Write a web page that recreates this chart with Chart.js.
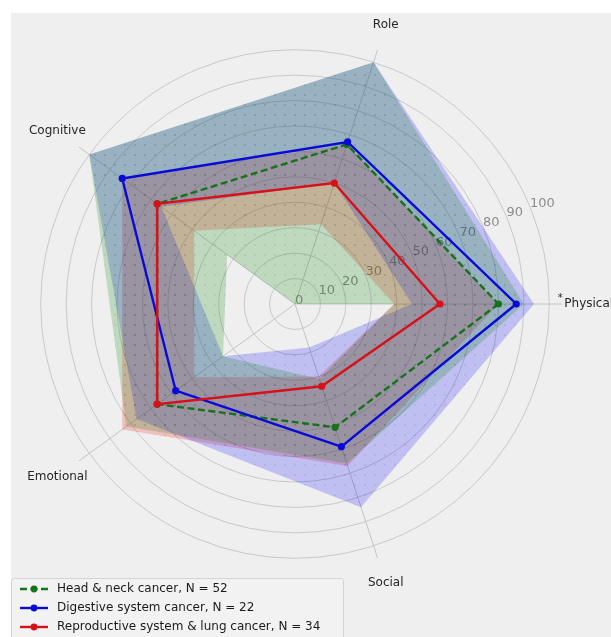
<!DOCTYPE html>
<html>
<head>
<meta charset="utf-8">
<script src="https://cdn.jsdelivr.net/npm/chart.js@4/dist/chart.umd.min.js"></script>
<style>
  html, body { margin: 0; padding: 0; background: #ffffff; }
  #wrap { position: relative; width: 611px; height: 637px; }
</style>
</head>
<body>
<div id="wrap"><canvas id="chart" width="611" height="637"></canvas></div>
<script>
// Axes, clockwise from the right-hand side
const categories = ['Physical', 'Social', 'Emotional', 'Cognitive', 'Role'];
const starred = ['Physical'];
const tickLabels = [0, 10, 20, 30, 40, 50, 60, 70, 80, 90, 100];

const seriesNames = [
  'Head & neck cancer, N = 52',
  'Digestive system cancer, N = 22',
  'Reproductive system & lung cancer, N = 34'
];

// Score profiles (same axis order as categories)
const headNeck      = [80, 51, 67, 67, 66];
const digestive     = [87, 59, 58, 84, 67];
const reproductive  = [57, 34, 67, 67, 50];

// Spread bands: lower and upper bounds per axis
const headNeckLow      = [39, 31, 35, 33, 0];
const headNeckHigh     = [90, 66, 82, 100, 100];
const digestiveLow     = [46, 18, 35, 65, 50];
const digestiveHigh    = [94, 84, 77, 100, 100];
const reproductiveLow  = [39, 30, 49, 49, 33];
const reproductiveHigh = [80, 67, 84, 84, 66];

const lineColors = ['#17731a', '#0a0ad8', '#d8101a'];
const bandColors = ['rgba(0,128,0,0.2)', 'rgba(0,0,255,0.2)', 'rgba(255,0,0,0.2)'];

// Dotted hatch pattern on top of a translucent colour
function dotPattern(color) {
  const s = 10;
  const c = document.createElement('canvas');
  c.width = s; c.height = s;
  const g = c.getContext('2d');
  g.fillStyle = color;
  g.fillRect(0, 0, s, s);
  g.fillStyle = 'rgba(0,0,0,0.1)';
  g.beginPath();
  g.arc(5, 5, 0.9, 0, Math.PI * 2);
  g.fill();
  return g.createPattern(c, 'repeat');
}

const ctx = document.getElementById('chart').getContext('2d');

function band(data, fill, color) {
  return {
    data: data,
    borderColor: 'rgba(0,0,0,0)',
    borderWidth: 0,
    pointRadius: 0,
    pointHoverRadius: 0,
    backgroundColor: color,
    fill: fill,
    order: 10
  };
}

function profile(data, i, dash) {
  return {
    label: seriesNames[i],
    data: data,
    borderColor: lineColors[i],
    backgroundColor: lineColors[i],
    pointBackgroundColor: lineColors[i],
    pointBorderWidth: 0,
    pointRadius: 3.6,
    borderWidth: 2.4,
    borderDash: dash,
    fill: false,
    order: 3 - i
  };
}

const backdrop = {
  id: 'backdrop',
  beforeDraw(chart) {
    const g = chart.ctx;
    g.save();
    g.fillStyle = '#ffffff';
    g.fillRect(0, 0, chart.width, chart.height);
    g.fillStyle = '#efefef';
    g.fillRect(11, 13, chart.width - 11, chart.height - 13);
    g.restore();
  }
};

// Radial tick labels along a ray 22.5 degrees above the Physical axis
const radialTicks = {
  id: 'radialTicks',
  beforeDatasetsDraw(chart) {
    const s = chart.scales.r;
    const g = chart.ctx;
    const a = -22.5 * Math.PI / 180;
    g.save();
    g.font = '13px "DejaVu Sans"';
    g.fillStyle = '#8c8c8c';
    g.textAlign = 'left';
    g.textBaseline = 'alphabetic';
    tickLabels.forEach(v => {
      const d = s.getDistanceFromCenterForValue(v);
      g.fillText(String(v), s.xCenter + Math.cos(a) * d, s.yCenter + Math.sin(a) * d);
    });
    g.restore();
  }
};

// Axis names and the legend box
const annotations = {
  id: 'annotations',
  afterDraw(chart) {
    const s = chart.scales.r;
    const g = chart.ctx;
    g.save();
    g.font = '12px "DejaVu Sans"';
    g.fillStyle = '#262626';
    g.textAlign = 'center';
    g.textBaseline = 'middle';
    const dist = s.drawingArea * 1.10;
    categories.forEach((name, i) => {
      const p = s.getPointPosition(i, dist);
      g.fillText(name, p.x, p.y);
      if (starred.includes(name)) {
        const w = g.measureText(name).width;
        g.save();
        g.font = '10px "DejaVu Sans"';
        g.fillText('*', p.x - w / 2 - 4, p.y - 6);
        g.restore();
      }
    });

    // legend
    const bx = 11.5, by = 578.5, bw = 332, bh = 70;
    g.fillStyle = 'rgba(242,242,242,0.85)';
    g.strokeStyle = '#d4d4d4';
    g.lineWidth = 1;
    g.beginPath();
    g.roundRect(bx, by, bw, bh, 3);
    g.fill();
    g.stroke();
    const rows = [589, 608, 627];
    g.textAlign = 'left';
    g.textBaseline = 'middle';
    g.font = '12px "DejaVu Sans"';
    seriesNames.forEach((name, i) => {
      const y = rows[i];
      g.strokeStyle = lineColors[i];
      g.lineWidth = 2.4;
      g.setLineDash(i === 0 ? [7, 3.5] : []);
      g.beginPath();
      g.moveTo(20, y);
      g.lineTo(48, y);
      g.stroke();
      g.setLineDash([]);
      g.fillStyle = lineColors[i];
      g.beginPath();
      g.arc(34, y, 3.4, 0, Math.PI * 2);
      g.fill();
      g.fillStyle = '#1a1a1a';
      g.fillText(name, 57, y);
    });
    g.restore();
  }
};

new Chart(ctx, {
  type: 'radar',
  data: {
    labels: categories,
    datasets: [
      band(headNeckLow, false, 'rgba(0,0,0,0)'),
      band(headNeckHigh, '-1', dotPattern(bandColors[0])),
      band(digestiveLow, false, 'rgba(0,0,0,0)'),
      band(digestiveHigh, '-1', dotPattern(bandColors[1])),
      band(reproductiveLow, false, 'rgba(0,0,0,0)'),
      band(reproductiveHigh, '-1', dotPattern(bandColors[2])),
      profile(headNeck, 0, [7, 3.5]),
      profile(digestive, 1, []),
      profile(reproductive, 2, [])
    ]
  },
  options: {
    responsive: false,
    animation: false,
    devicePixelRatio: 1,
    layout: { padding: { left: 28, top: 37, right: 49, bottom: 66 } },
    elements: { line: { tension: 0 } },
    plugins: {
      legend: { display: false },
      tooltip: { enabled: false },
      filler: { propagate: false }
    },
    scales: {
      r: {
        min: 0,
        max: 105,
        startAngle: 90,
        ticks: { display: false, stepSize: 10 },
        afterBuildTicks(scale) {
          scale.ticks = scale.ticks.filter(t => t.value % 10 === 0 && t.value <= 100);
        },
        grid: { circular: true, color: '#c9c9c9', lineWidth: 1 },
        angleLines: { color: '#c4c4c4', lineWidth: 1 },
        pointLabels: { display: false }
      }
    }
  },
  plugins: [backdrop, radialTicks, annotations]
});
</script>
</body>
</html>
